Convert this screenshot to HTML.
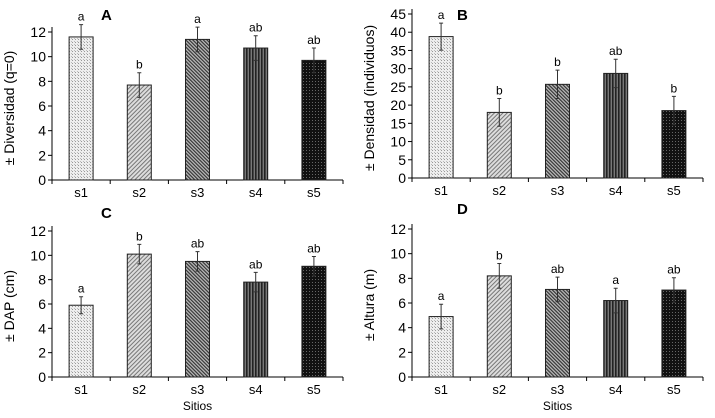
<!DOCTYPE html>
<html><head><meta charset="utf-8"><style>
body{margin:0;background:#fff;}
svg{display:block;font-family:"Liberation Sans",Arial,sans-serif;}
</style></head><body>
<svg id="fig" width="715" height="418" viewBox="0 0 715 418">
<defs>
<pattern id="p1" width="3" height="3" patternUnits="userSpaceOnUse"><rect width="3" height="3" fill="#eee"/><rect width="1" height="1" fill="#999"/><rect x="2" y="2" width="1" height="1" fill="#bbb"/></pattern>
<pattern id="p2" width="3" height="3" patternUnits="userSpaceOnUse" patternTransform="rotate(45)"><rect width="3" height="3" fill="#ddd"/><rect width="1" height="3" fill="#777"/></pattern>
<pattern id="p3" width="2.5" height="2.5" patternUnits="userSpaceOnUse" patternTransform="rotate(-45)"><rect width="2.5" height="2.5" fill="#bbb"/><rect width="1.2" height="2.5" fill="#333"/></pattern>
<pattern id="p4" width="3" height="3" patternUnits="userSpaceOnUse"><rect width="3" height="3" fill="#555"/><rect width="1.3" height="3" fill="#222"/><rect x="2" width="0.7" height="3" fill="#888"/></pattern>
<pattern id="p5" width="3" height="3" patternUnits="userSpaceOnUse"><rect width="3" height="3" fill="#111"/><rect width="1" height="1" fill="#666"/></pattern>
</defs>
</svg>
<script>
const cats=["s1","s2","s3","s4","s5"];
const valsA=[11.6,7.7,11.4,10.7,9.7];
const errA=[1.0,1.0,1.0,1.0,1.0];
const letA=["a","b","a","ab","ab"];
const valsB=[38.8,18.0,25.7,28.7,18.5];
const errB=[3.7,3.8,3.9,3.9,3.9];
const letB=["a","b","b","ab","b"];
const valsC=[5.9,10.1,9.5,7.8,9.1];
const errC=[0.7,0.8,0.8,0.8,0.8];
const letC=["a","b","ab","ab","ab"];
const valsD=[4.9,8.2,7.1,6.2,7.05];
const errD=[1.0,1.0,1.0,1.0,1.0];
const letD=["a","b","ab","a","ab"];
const ticks12=[0,2,4,6,8,10,12];
const ticks45=[0,5,10,15,20,25,30,35,40,45];
const NS="http://www.w3.org/2000/svg";
const svg=document.getElementById('fig');
function mk(t,a,p){const e=document.createElementNS(NS,t);for(const k in a)e.setAttribute(k,a[k]);(p||svg).appendChild(e);return e;}
function panel(id,x0,x1,y0,yTop,max,ticks,vals,errs,lets,ylabel,title,tx,ty,showX){
 const g=mk('g',{});
 
 
 const ys=v=>y0-(v/max)*(y0-yTop);
 const cw=(x1-x0)/cats.length;
 const xc=i=>x0+cw*(i+0.5);
 const ax=mk('line',{x1:x0,y1:y0,x2:x1,y2:y0,stroke:'#000','stroke-width':1},g);
 
 const ay=mk('line',{x1:x0,y1:y0,x2:x0,y2:ys(max)-5,stroke:'#000','stroke-width':1},g);
 
 ticks.forEach(t=>{mk('line',{x1:x0-4,x2:x0,y1:ys(t),y2:ys(t),stroke:'#000'},g);
  const tl=mk('text',{x:x0-6,y:ys(t)+5,'text-anchor':'end','font-size':14},g);tl.textContent=t;
  });
 for(let i=0;i<=cats.length;i++)mk('line',{x1:x0+cw*i,x2:x0+cw*i,y1:y0,y2:y0+4,stroke:'#000'},g);
 cats.forEach((c,i)=>{
  const v=vals[i],e=errs[i],bw=24;
  const b=mk('rect',{x:xc(i)-bw/2,y:ys(v),width:bw,height:y0-ys(v),fill:'url(#p'+(i+1)+')',stroke:'#222','stroke-width':1},g);
  
  const el=mk('path',{d:`M${xc(i)},${ys(v-e)}V${ys(v+e)}M${xc(i)-2},${ys(v+e)}H${xc(i)+2}M${xc(i)-2},${ys(v-e)}H${xc(i)+2}`,stroke:'#333',fill:'none'},g);
  
  const lt=mk('text',{x:xc(i),y:ys(v+e)-4,'text-anchor':'middle','font-size':12},g);lt.textContent=lets[i];
  
  const xl=mk('text',{x:xc(i),y:y0+17,'text-anchor':'middle','font-size':13},g);xl.textContent=c;
  
 });
 const yl=mk('text',{x:0,y:0,'text-anchor':'middle','font-size':14,transform:`translate(${x0-38},${(y0+yTop)/2+2}) rotate(-90)`},g);yl.textContent=ylabel;
 
 const tt=mk('text',{x:tx,y:ty,'font-size':15,'font-weight':'bold'},g);tt.textContent=title;
 
 if(showX){const xt=mk('text',{x:(x0+x1)/2,y:y0+33,'text-anchor':'middle','font-size':12},g);xt.textContent='Sitios';
  }
}
panel('a',52,343,180,32,12,ticks12,valsA,errA,letA,'± Diversidad  (q=0)','A',101,20,false);
panel('b',412,703,178,14,45,ticks45,valsB,errB,letB,'± Densidad (individuos)','B',457,20,false);
panel('c',52,343,377,231,12,ticks12,valsC,errC,letC,'± DAP (cm)','C',101,218,true);
panel('d',412,703,377,229,12,ticks12,valsD,errD,letD,'± Altura (m)','D',457,214,true);
</script>
</body></html>
